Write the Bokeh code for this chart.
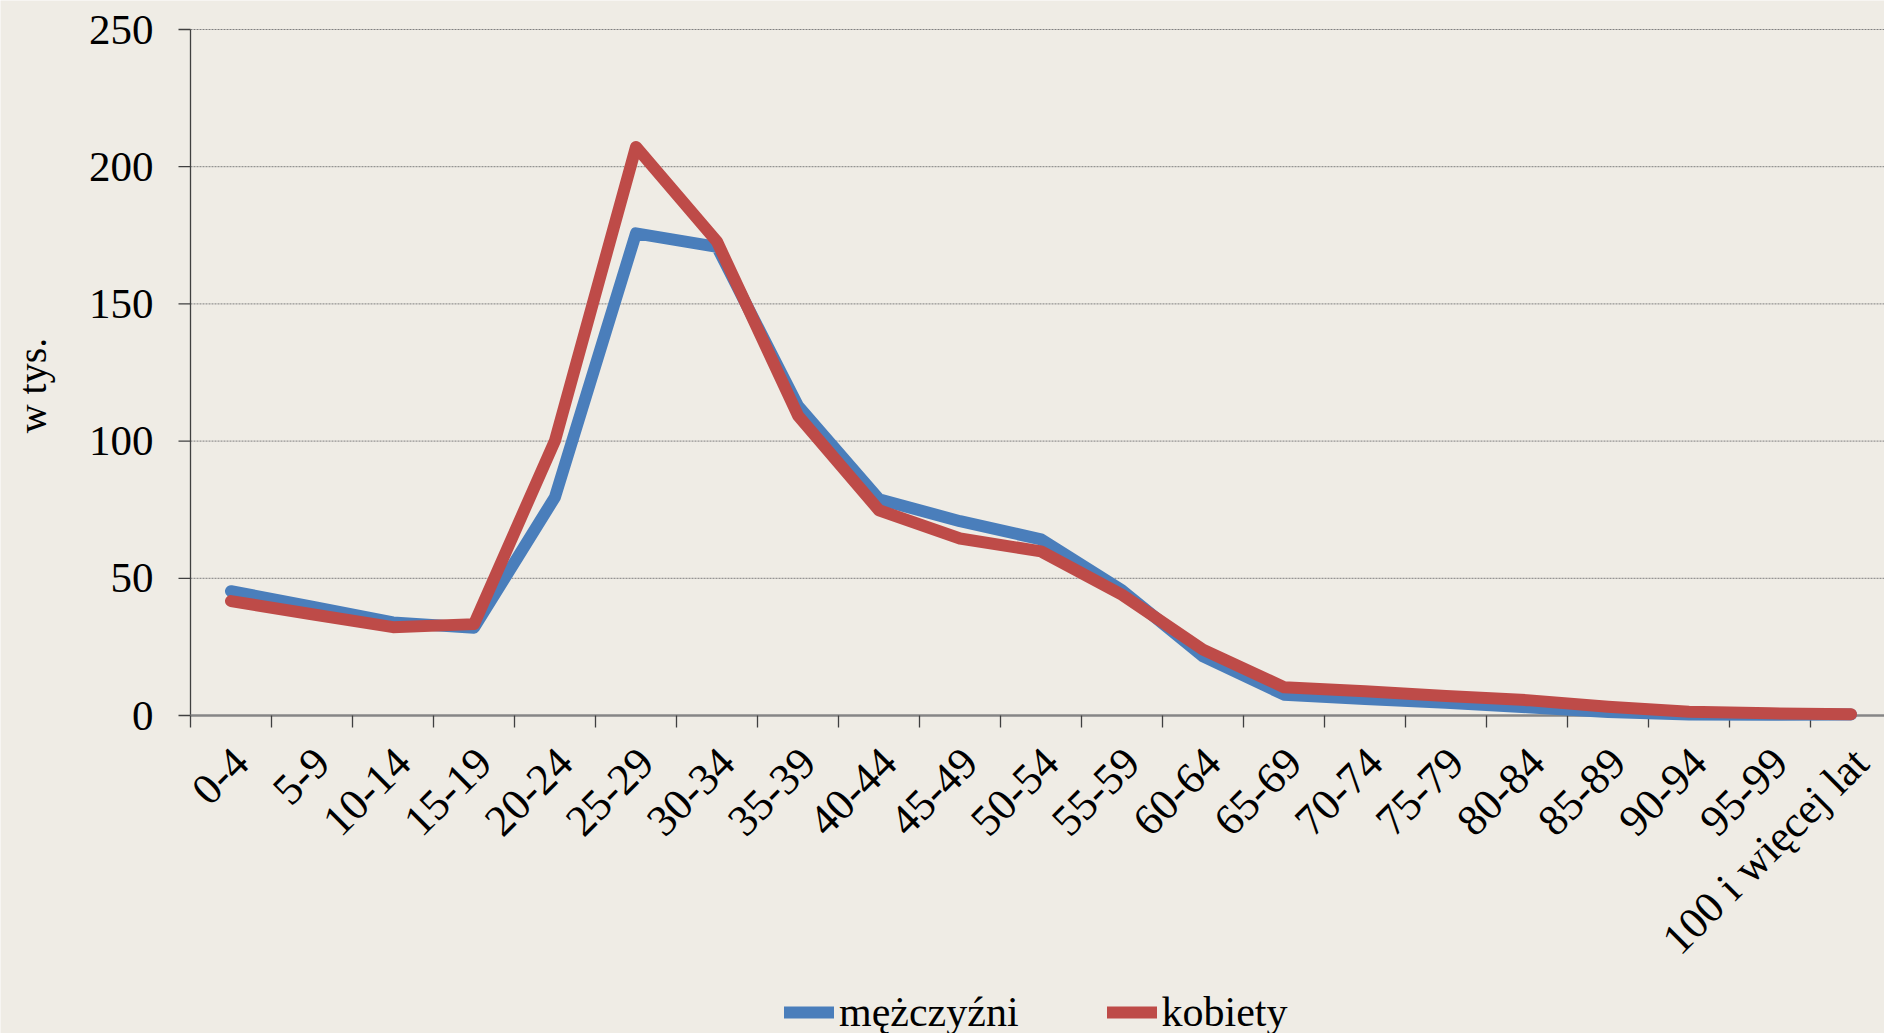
import math
from bokeh.plotting import figure
from bokeh.models import Range1d, Legend, LegendItem
from bokeh.core.properties import value
from bokeh.embed import file_html
from bokeh.resources import INLINE

categories = ["0-4", "5-9", "10-14", "15-19", "20-24", "25-29", "30-34", "35-39",
              "40-44", "45-49", "50-54", "55-59", "60-64", "65-69", "70-74", "75-79",
              "80-84", "85-89", "90-94", "95-99", "100 i więcej lat"]
men = [45.3, 39.7, 33.9, 32.0, 79.6, 175.7, 170.8, 112.8, 78.8, 70.8, 64.2, 45.6,
       21.6, 7.6, 6.0, 4.6, 3.0, 1.3, 0.4, 0.3, 0.4]
women = [41.7, 36.9, 32.2, 33.3, 100.2, 207.2, 172.7, 109.3, 74.8, 64.5, 59.8, 44.0,
         24.0, 10.3, 8.8, 7.1, 5.6, 3.2, 1.4, 0.8, 0.5]
series_names = ["mężczyźni", "kobiety"]
y_ticks = [0, 50, 100, 150, 200, 250]
y_title = "w tys."

BG = "#efece5"
FONT = "Liberation Serif"
BLUE = "#4a7ebb"
RED = "#be4b48"
AXIS_DARK = "#404040"
AXIS_GRAY = "#868686"

# layout in pixels
W, H = 1884, 1033
ORIGIN_X = 190        # pixel column of the category axis origin
TOP_Y = 29            # pixel row of the top value
ZERO_Y = 715          # pixel row of value 0
CAT_W = 81            # pixels per category
Y_MAX = y_ticks[-1]
PX_PER_UNIT = (ZERO_Y - TOP_Y) / Y_MAX

X_START = -ORIGIN_X / CAT_W
X_END = (W - ORIGIN_X) / CAT_W
Y_START = -(H - ZERO_Y) / PX_PER_UNIT
Y_END = Y_MAX + TOP_Y / PX_PER_UNIT

xs = [i + 0.5 for i in range(len(categories))]
zeros = [0] * len(categories)
boundaries = list(range(len(categories) + 1))
zeros_b = [0] * len(boundaries)
grid_vals = y_ticks[1:]
tick_labels = [str(v) for v in y_ticks]

p = figure(width=W, height=H, output_backend="svg", toolbar_location=None,
           x_range=Range1d(X_START, X_END), y_range=Range1d(Y_START, Y_END),
           x_axis_location=None, y_axis_location=None, min_border=0)
p.background_fill_color = BG
p.border_fill_color = BG
p.outline_line_color = None
p.grid.visible = False

# horizontal gridlines
p.segment(x0=[0] * len(grid_vals), y0=grid_vals, x1=[X_END] * len(grid_vals), y1=grid_vals,
          line_color="#7f7f7f", line_width=1, line_dash="2 1")

# value axis
p.segment(x0=[0], y0=[0], x1=[0], y1=[Y_MAX], line_color=AXIS_DARK, line_width=1.3)
p.ray(x=[0] * len(y_ticks), y=y_ticks, length=12, length_units="screen", angle=math.pi,
      line_color=AXIS_DARK, line_width=1.3)
p.text(x=[0] * len(y_ticks), y=y_ticks, text=tick_labels, text_align="right", text_baseline="middle",
       x_offset=-37, text_font=value(FONT), text_font_size="43px", text_color="black")
p.text(x=[0], y=[Y_MAX / 2], text=[y_title], angle=math.pi / 2, text_align="center",
       text_baseline="middle", x_offset=-158, y_offset=13,
       text_font=value(FONT), text_font_size="40px", text_color="black")

# category axis
p.segment(x0=[0], y0=[0], x1=[X_END], y1=[0], line_color=AXIS_GRAY, line_width=2.5)
p.ray(x=boundaries, y=zeros_b, length=12, length_units="screen", angle=-math.pi / 2,
      line_color=AXIS_DARK, line_width=1.3)
p.text(x=xs, y=zeros, text=categories, angle=math.pi / 4, text_align="right", text_baseline="middle",
       x_offset=10, y_offset=40, text_font=value(FONT), text_font_size="44px", text_color="black")

# data series
r1 = p.line(xs, men, line_color=BLUE, line_width=12, line_join="round", line_cap="round")
r2 = p.line(xs, women, line_color=RED, line_width=12, line_join="round", line_cap="round")

legend = Legend(items=[LegendItem(label=series_names[0], renderers=[r1]),
                       LegendItem(label=series_names[1], renderers=[r2])],
                orientation="horizontal", location=(784, -3),
                label_text_font=FONT, label_text_font_size="42px", label_text_color="black",
                glyph_width=50, glyph_height=30, label_height=30, label_standoff=5, spacing=88,
                padding=0, margin=0, border_line_color=None, background_fill_alpha=0)
p.add_layout(legend, "center")

open("out.html", "w").write(file_html(p, INLINE))
